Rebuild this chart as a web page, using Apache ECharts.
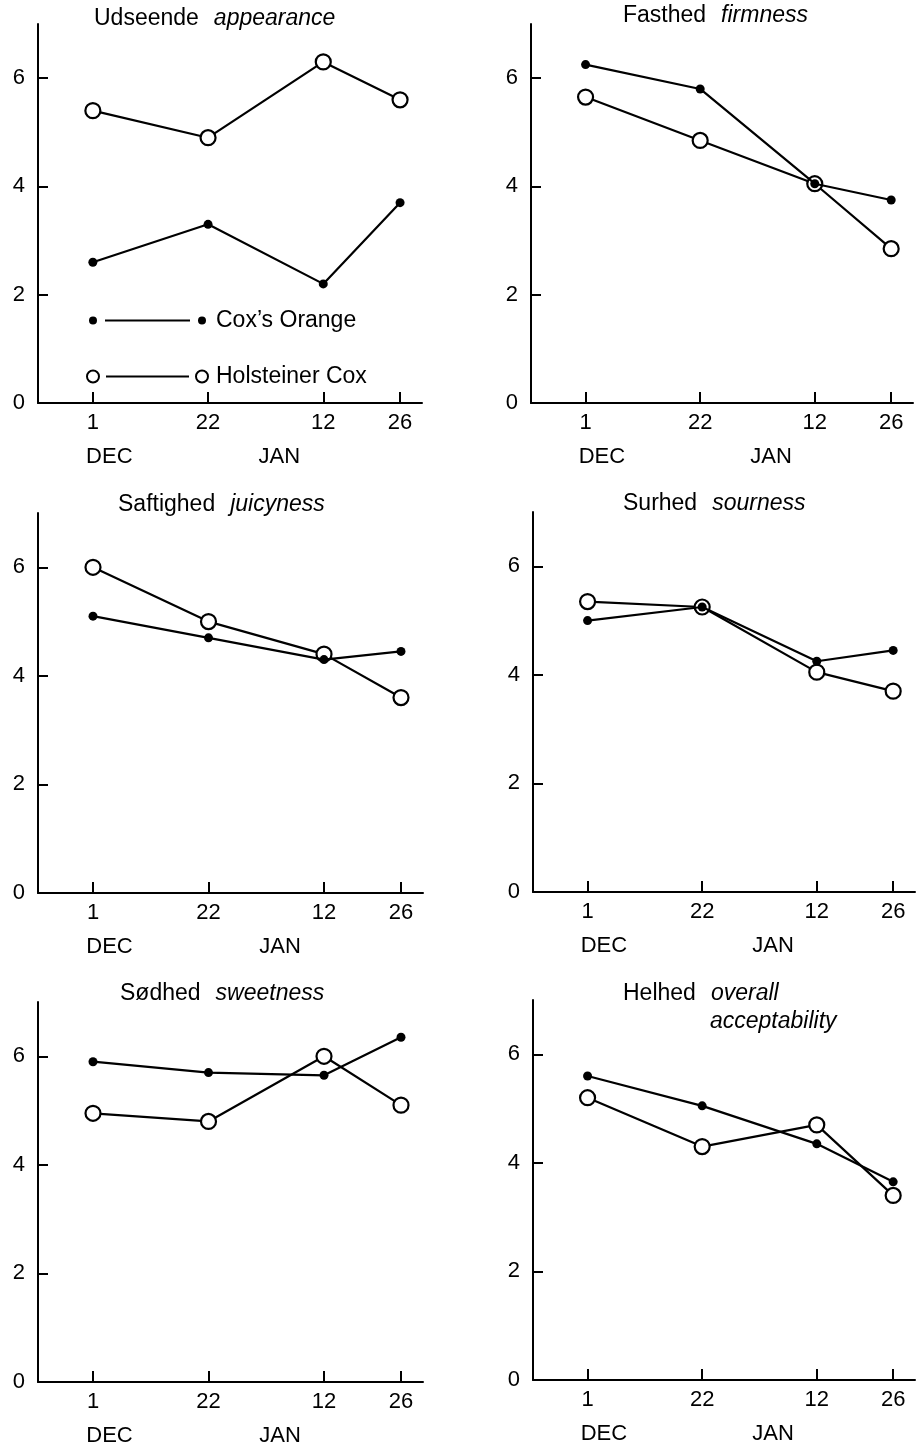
<!DOCTYPE html>
<html>
<head>
<meta charset="utf-8">
<script src="https://cdn.jsdelivr.net/npm/echarts@6/dist/echarts.min.js"></script>
<style>
  html, body { margin: 0; padding: 0; background: #fff; }
  #main { width: 921px; height: 1447px; }
</style>
</head>
<body>
<div id="main"></div>
<script>
// sampling dates, counted in days from 1 December
var dayOffsets = [0, 21, 42, 56];
var dayLabels = ['1', '22', '12', '26'];
var monthLabels = ['DEC', 'JAN'];
var yTicks = [0, 2, 4, 6];
var seriesNames = ['Cox\u2019s Orange', 'Holsteiner Cox'];

var titlesDa = ['Udseende', 'Fasthed', 'Saftighed', 'Surhed', 'S\u00f8dhed', 'Helhed'];
var titlesEn = ['appearance', 'firmness', 'juicyness', 'sourness', 'sweetness', 'overall\nacceptability'];

// scores, one value per sampling date
var coxAppearance = [2.6, 3.3, 2.2, 3.7];
var holAppearance = [5.4, 4.9, 6.3, 5.6];
var coxFirmness = [6.25, 5.8, 4.05, 3.75];
var holFirmness = [5.65, 4.85, 4.05, 2.85];
var coxJuicyness = [5.1, 4.7, 4.3, 4.45];
var holJuicyness = [6.0, 5.0, 4.4, 3.6];
var coxSourness = [5.0, 5.25, 4.25, 4.45];
var holSourness = [5.35, 5.25, 4.05, 3.7];
var coxSweetness = [5.9, 5.7, 5.65, 6.35];
var holSweetness = [4.95, 4.8, 6.0, 5.1];
var coxOverall = [5.6, 5.05, 4.35, 3.65];
var holOverall = [5.2, 4.3, 4.7, 3.4];

var FONT = '"Liberation Sans", Arial, Helvetica, sans-serif';

var panels = [
    [coxAppearance, holAppearance],
    [coxFirmness, holFirmness],
    [coxJuicyness, holJuicyness],
    [coxSourness, holSourness],
    [coxSweetness, holSweetness],
    [coxOverall, holOverall]
];

var grids = [
    {left: 38, top: 24, width: 384, height: 379},
    {left: 531, top: 24, width: 382, height: 379},
    {left: 38, top: 513, width: 385, height: 380},
    {left: 533, top: 512, width: 382, height: 380},
    {left: 38, top: 1002, width: 385, height: 380},
    {left: 533, top: 1000, width: 382, height: 380}
];
var titlePos = [[94, 5], [623, 2], [118, 491], [623, 490], [120, 980], [623, 980]];

var black = '#000';
var tickFont = {color: black, fontSize: 22, fontFamily: FONT};

var grid = [], xAxis = [], yAxis = [], series = [], title = [];

panels.forEach(function (p, i) {
    grid.push(Object.assign({outerBoundsMode: 'none', containLabel: false}, grids[i]));

    // day axis
    xAxis.push({
        type: 'value', gridIndex: i, min: -10, max: 60, position: 'bottom',
        axisLine: {show: true, onZero: false, lineStyle: {color: black, width: 2}},
        axisTick: {show: true, inside: true, length: 11, customValues: dayOffsets,
                   lineStyle: {color: black, width: 2}},
        axisLabel: Object.assign({
            customValues: dayOffsets, margin: 9,
            formatter: function (v) { return dayLabels[dayOffsets.indexOf(v)]; }
        }, tickFont),
        splitLine: {show: false}
    });
    // month names under the dates
    xAxis.push({
        type: 'value', gridIndex: i, min: -10, max: 60, position: 'bottom',
        axisLine: {show: false}, axisTick: {show: false}, splitLine: {show: false},
        axisLabel: {
            customValues: [3, 34], margin: 43, fontSize: 22, color: black, fontFamily: FONT,
            formatter: function (v) { return v < 20 ? monthLabels[0] : monthLabels[1]; }
        }
    });

    yAxis.push({
        type: 'value', gridIndex: i, min: 0, max: 7,
        axisLine: {show: true, onZero: false, lineStyle: {color: black, width: 2}},
        axisTick: {show: true, inside: true, length: 10, customValues: yTicks,
                   lineStyle: {color: black, width: 2}},
        axisLabel: Object.assign({customValues: yTicks, margin: 13}, tickFont),
        splitLine: {show: false}
    });

    series.push({
        name: seriesNames[0], type: 'line', xAxisIndex: 2 * i, yAxisIndex: i,
        data: dayOffsets.map(function (d, k) { return [d, p[0][k]]; }),
        symbol: 'circle', symbolSize: 9,
        itemStyle: {color: black},
        lineStyle: {color: black, width: 2.2},
        silent: true, z: 3
    });
    series.push({
        name: seriesNames[1], type: 'line', xAxisIndex: 2 * i, yAxisIndex: i,
        data: dayOffsets.map(function (d, k) { return [d, p[1][k]]; }),
        symbol: 'circle', symbolSize: 15,
        itemStyle: {color: '#fff', borderColor: black, borderWidth: 2.2},
        lineStyle: {color: black, width: 2.2},
        silent: true, z: 2
    });

    var en = titlesEn[i].split('\n');
    var text = '{a|' + titlesDa[i] + '}{gap|}{b|' + en[0] + '}';
    if (en.length > 1) text += '\n{ind|}{b|' + en[1] + '}';
    title.push({
        text: text, left: titlePos[i][0], top: titlePos[i][1], padding: 0,
        textStyle: {
            fontWeight: 'normal',
            rich: {
                a: {fontSize: 23, fontFamily: FONT, color: black, fontWeight: 'normal', lineHeight: 28},
                b: {fontSize: 23, fontFamily: FONT, color: black, fontWeight: 'normal', fontStyle: 'italic', lineHeight: 28},
                gap: {width: 15},
                ind: {width: 87}
            }
        }
    });
});

// legend icons: dot - line - dot, and ring - line - ring
var iconCox = 'path://M0,0M3,7a4,4 0 1,0 8,0a4,4 0 1,0 -8,0Z' +
    'M19,6H104V8H19Z' +
    'M112,7a4,4 0 1,0 8,0a4,4 0 1,0 -8,0ZM125,14';
var iconHol = 'path://M0,0M0,7a7,7 0 1,0 14,0a7,7 0 1,0 -14,0Z' +
    'M2,7a5,5 0 1,1 10,0a5,5 0 1,1 -10,0Z' +
    'M20,6H103V8H20Z' +
    'M109,7a7,7 0 1,0 14,0a7,7 0 1,0 -14,0Z' +
    'M111,7a5,5 0 1,1 10,0a5,5 0 1,1 -10,0ZM125,14';

var myChart = echarts.init(document.getElementById('main'), null, {renderer: 'canvas'});
myChart.setOption({
    animation: false,
    backgroundColor: '#fff',
    title: title,
    legend: {
        orient: 'vertical', left: 86, top: 309, padding: 0,
        itemWidth: 125, itemHeight: 14, itemGap: 33,
        selectedMode: false,
        textStyle: {fontSize: 23, fontFamily: FONT, color: black, lineHeight: 23},
        data: [
            {name: seriesNames[0], icon: iconCox, itemStyle: {color: black, borderWidth: 0}},
            {name: seriesNames[1], icon: iconHol, itemStyle: {color: black, borderWidth: 0}}
        ]
    },
    grid: grid,
    xAxis: xAxis,
    yAxis: yAxis,
    series: series
});
</script>
</body>
</html>
